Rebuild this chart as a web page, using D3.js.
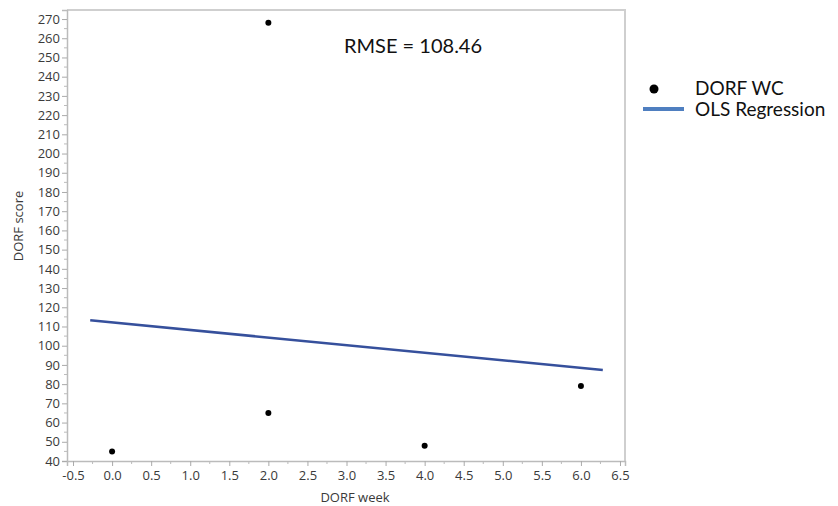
<!DOCTYPE html>
<html>
<head>
<meta charset="utf-8">
<script src="https://cdn.jsdelivr.net/npm/d3@7"></script>
<style>
  html, body { margin: 0; padding: 0; background: #fff; }
  svg { display: block; }
</style>
</head>
<body>
<svg id="chart" width="838" height="506"></svg>
<script>
// DORF WC observations
const weeks  = [0, 2, 2, 4, 6];
const scores = [45, 268, 65, 48, 79];

// OLS fit line endpoints (week, score)
const regWeeks  = [-0.28, 6.28];
const regScores = [113.2, 87.4];

const rmseLabel = "RMSE = 108.46";

// axis ticks
const xTicks = [-0.5, 0, 0.5, 1, 1.5, 2, 2.5, 3, 3.5, 4, 4.5, 5, 5.5, 6, 6.5];
const yTicks = d3.range(40, 271, 10);

const svg = d3.select("#chart");
const plotLeft = 67, plotRight = 625, plotTop = 10, plotBottom = 461;

const x = d3.scaleLinear().domain([-0.577, 6.564]).range([plotLeft, plotRight]);
const y = d3.scaleLinear().domain([40, 274.7]).range([plotBottom, plotTop]);

// frame: light border on top and right
svg.append("path")
  .attr("d", `M${plotLeft},${plotTop}H${plotRight}V${plotBottom}`)
  .attr("fill", "none").attr("stroke", "#cfcfcf").attr("stroke-width", 2);

const tickFont = "'Open Sans', sans-serif";
const fmtX = d => d.toFixed(1); // plain hyphen for negatives

// y axis
const yAxis = svg.append("g").attr("transform", `translate(${plotLeft},0)`)
  .call(d3.axisLeft(y).tickValues(yTicks).tickSize(5).tickPadding(2).tickFormat(d3.format("d")));
yAxis.select(".domain").attr("stroke", "#bbb").attr("stroke-width", 1.5);
yAxis.selectAll(".tick line").attr("stroke", "#aaa");
yAxis.selectAll("text").attr("fill", "#3a3a3a").style("font-family", tickFont).style("font-size", "13px");
// y minor ticks
svg.append("g").selectAll("line")
  .data(d3.range(45, 271, 10)).join("line")
  .attr("x1", plotLeft - 3).attr("x2", plotLeft)
  .attr("y1", d => y(d)).attr("y2", d => y(d))
  .attr("stroke", "#bbb");

// x axis
const xAxis = svg.append("g").attr("transform", `translate(0,${plotBottom})`)
  .call(d3.axisBottom(x).tickValues(xTicks).tickSize(5).tickPadding(5).tickFormat(fmtX));
xAxis.select(".domain").attr("stroke", "#bbb").attr("stroke-width", 1.5);
xAxis.selectAll(".tick line").attr("stroke", "#aaa");
xAxis.selectAll("text").attr("fill", "#3a3a3a").style("font-family", tickFont).style("font-size", "13px");
// x minor ticks
svg.append("g").selectAll("line")
  .data(d3.range(-0.25, 6.5, 0.5)).join("line")
  .attr("x1", d => x(d)).attr("x2", d => x(d))
  .attr("y1", plotBottom).attr("y2", plotBottom + 3)
  .attr("stroke", "#bbb");

// axis titles
svg.append("text")
  .attr("transform", `translate(23,226) rotate(-90)`)
  .attr("text-anchor", "middle")
  .attr("fill", "#3a3a3a").style("font-family", tickFont).style("font-size", "13px")
  .text("DORF score");
svg.append("text")
  .attr("x", 355).attr("y", 502)
  .attr("text-anchor", "middle")
  .attr("fill", "#3a3a3a").style("font-family", tickFont).style("font-size", "13px")
  .text("DORF week");

// regression line
svg.append("path")
  .datum(d3.zip(regWeeks, regScores))
  .attr("d", d3.line().x(d => x(d[0])).y(d => y(d[1])))
  .attr("fill", "none").attr("stroke", "#36509c").attr("stroke-width", 2.5);

// points
svg.append("g").selectAll("circle")
  .data(d3.zip(weeks, scores)).join("circle")
  .attr("cx", d => x(d[0])).attr("cy", d => y(d[1]))
  .attr("r", 3).attr("fill", "#000");

// RMSE annotation
svg.append("text")
  .attr("x", 344).attr("y", 53)
  .attr("fill", "#111").style("font-family", "Lato, sans-serif").style("font-size", "20px")
  .text(rmseLabel);

// legend
const legendFont = "Lato, sans-serif";
svg.append("circle").attr("cx", 654).attr("cy", 89).attr("r", 4.5).attr("fill", "#000");
svg.append("text").attr("x", 695).attr("y", 95)
  .attr("fill", "#111").style("font-family", legendFont).style("font-size", "19px")
  .text("DORF WC");
svg.append("line").attr("x1", 643).attr("x2", 684).attr("y1", 109).attr("y2", 109)
  .attr("stroke", "#4f7fc0").attr("stroke-width", 4);
svg.append("text").attr("x", 695).attr("y", 116)
  .attr("fill", "#111").style("font-family", legendFont).style("font-size", "19px")
  .text("OLS Regression");
</script>
</body>
</html>
